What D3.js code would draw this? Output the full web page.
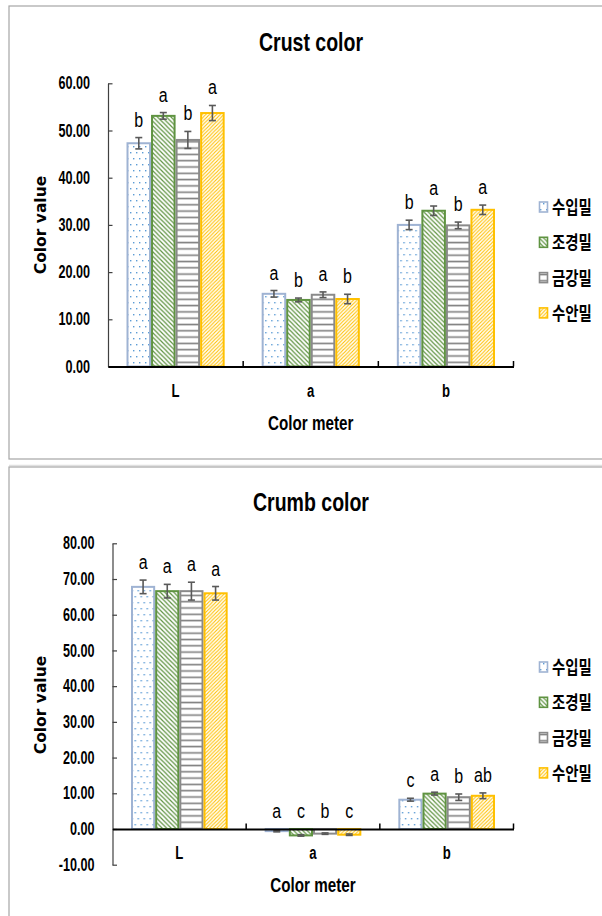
<!DOCTYPE html>
<html>
<head>
<meta charset="utf-8">
<script src="https://cdn.jsdelivr.net/npm/d3@7"></script>
<style>
  body { margin: 0; background: #fff; }
  svg text { fill: #000; }
</style>
</head>
<body>
<svg id="chart" width="602" height="916"></svg>
<script>
// color meter categories and wheat varieties
var meters = ["L", "a", "b"];
var wheats = ["수입밀", "조경밀", "금강밀", "수안밀"];

// crust color: mean, sd, letters (one row per meter, one column per wheat)
var crustMean = [[47.3, 53.1, 48.0, 53.7], [15.4, 14.1, 15.2, 14.3], [30.0, 33.0, 29.9, 33.2]];
var crustSd = [[1.2, 0.7, 1.8, 1.6], [0.7, 0.4, 0.6, 1.0], [1.0, 1.0, 0.7, 1.0]];
var crustLetters = [["b", "a", "b", "a"], ["a", "b", "a", "b"], ["b", "a", "b", "a"]];

// crumb color
var crumbMean = [[67.8, 66.6, 66.6, 66.0], [-0.6, -1.8, -1.3, -1.6], [8.2, 9.9, 8.9, 9.3]];
var crumbSd = [[1.9, 1.9, 2.5, 1.9], [0.2, 0.2, 0.2, 0.2], [0.4, 0.4, 0.9, 0.8]];
var crumbLetters = [["a", "a", "a", "a"], ["a", "c", "b", "c"], ["c", "a", "b", "ab"]];

var crustTicks = [0, 10, 20, 30, 40, 50, 60];
var crumbTicks = [-10, 0, 10, 20, 30, 40, 50, 60, 70, 80];

var borderColors = ["#9fb3d3", "#5f9341", "#8a8a8a", "#ffc000"];
var sans = "'Liberation Sans', Arial, sans-serif";

var svg = d3.select("#chart");
var defs = svg.append("defs");

// no narrow font here, so squeeze the text horizontally
function squeeze(sel, k) {
    sel.each(function() {
        var w = this.getComputedTextLength();
        d3.select(this).attr("textLength", w * k).attr("lengthAdjust", "spacingAndGlyphs");
    });
}

// fill patterns, similar to the Excel ones
var p0 = defs.append("pattern").attr("id", "pat0").attr("patternUnits", "userSpaceOnUse")
    .attr("width", 6).attr("height", 12);
p0.append("rect").attr("width", 6).attr("height", 12).attr("fill", "#fff");
p0.append("rect").attr("x", 1).attr("y", 2).attr("width", 1.4).attr("height", 1.4).attr("fill", "#5b9bd5");
p0.append("rect").attr("x", 4).attr("y", 8).attr("width", 1.4).attr("height", 1.4).attr("fill", "#5b9bd5");

var p1 = defs.append("pattern").attr("id", "pat1").attr("patternUnits", "userSpaceOnUse")
    .attr("width", 4.5).attr("height", 4.5);
p1.append("rect").attr("width", 4.5).attr("height", 4.5).attr("fill", "#fff");
p1.append("path").attr("d", "M0,0L4.5,4.5M-1,3.5L1,5.5M3.5,-1L5.5,1")
    .attr("stroke", "#5f9341").attr("stroke-width", 1.2);

var p2 = defs.append("pattern").attr("id", "pat2").attr("patternUnits", "userSpaceOnUse")
    .attr("width", 6).attr("height", 6.3);
p2.append("rect").attr("width", 6).attr("height", 6.3).attr("fill", "#fff");
p2.append("path").attr("d", "M0,3.2H6").attr("stroke", "#808080").attr("stroke-width", 1.6);

var p3 = defs.append("pattern").attr("id", "pat3").attr("patternUnits", "userSpaceOnUse")
    .attr("width", 3.6).attr("height", 3.6);
p3.append("rect").attr("width", 3.6).attr("height", 3.6).attr("fill", "#fff");
p3.append("path").attr("d", "M0,3.6L3.6,0M-1,1L1,-1M2.6,4.6L4.6,2.6")
    .attr("stroke", "#ffc000").attr("stroke-width", 1.1);

// frames around the two charts
svg.append("rect").attr("x", 9).attr("y", 6).attr("width", 600).attr("height", 453)
    .attr("fill", "none").attr("stroke", "#a6a6a6").attr("stroke-width", 1.2);
svg.append("line").attr("x1", 9).attr("x2", 602).attr("y1", 465.5).attr("y2", 465.5)
    .attr("stroke", "#e0e0e0").attr("stroke-width", 1.5);
svg.append("rect").attr("x", 9).attr("y", 467).attr("width", 600).attr("height", 460)
    .attr("fill", "none").attr("stroke", "#a6a6a6").attr("stroke-width", 1.2);

function drawChart(cfg) {
    var g = svg.append("g");

    var x0 = d3.scaleBand().domain(meters).range([cfg.left, cfg.right]);
    var pad = 18.5;
    var x1 = d3.scaleBand().domain(wheats).range([pad, x0.bandwidth() - pad]);
    var y = d3.scaleLinear().domain(cfg.domain).range([cfg.bottom, cfg.top]);

    // title
    g.append("text")
        .attr("x", 311).attr("y", cfg.titleY)
        .attr("text-anchor", "middle")
        .style("font-family", sans).style("font-weight", "bold").style("font-size", "26px")
        .text(cfg.title)
        .call(squeeze, 0.75);

    // y axis
    var yAxis = d3.axisLeft(y)
        .tickValues(cfg.ticks)
        .tickSizeInner(-4.5)
        .tickSizeOuter(0)
        .tickPadding(18)
        .tickFormat(function(d) { return d.toFixed(2); });

    var ya = g.append("g")
        .attr("transform", "translate(" + cfg.left + ",0)")
        .call(yAxis);
    ya.select(".domain").attr("stroke", "#404040").attr("stroke-width", 1.2);
    ya.selectAll(".tick line").attr("stroke", "#404040").attr("stroke-width", 1.2);
    ya.selectAll("text")
        .style("font-family", sans).style("font-weight", "bold").style("font-size", "17.5px")
        .call(squeeze, 0.72);

    // bars
    var groups = g.selectAll(".grp")
        .data(meters)
        .enter().append("g")
        .attr("class", "grp")
        .attr("transform", function(d) { return "translate(" + x0(d) + ",0)"; });

    groups.each(function(m, mi) {
        var rows = wheats.map(function(w, wi) {
            return { w: w, i: wi, v: cfg.mean[mi][wi], e: cfg.sd[mi][wi], t: cfg.letters[mi][wi] };
        });
        var sel = d3.select(this);

        sel.selectAll("rect")
            .data(rows)
            .enter().append("rect")
            .attr("x", function(d) { return x1(d.w) + 1; })
            .attr("width", x1.bandwidth() - 2)
            .attr("y", function(d) { return y(Math.max(0, d.v)); })
            .attr("height", function(d) { return Math.abs(y(d.v) - y(0)); })
            .attr("fill", function(d) { return "url(#pat" + d.i + ")"; })
            .attr("stroke", function(d) { return borderColors[d.i]; })
            .attr("stroke-width", 2);

        // error bars
        var eb = sel.selectAll(".err")
            .data(rows)
            .enter().append("g")
            .attr("class", "err")
            .attr("stroke", "#595959")
            .attr("stroke-width", 1.6);
        eb.append("line")
            .attr("x1", function(d) { return x1(d.w) + x1.bandwidth() / 2; })
            .attr("x2", function(d) { return x1(d.w) + x1.bandwidth() / 2; })
            .attr("y1", function(d) { return y(d.v - d.e); })
            .attr("y2", function(d) { return y(d.v + d.e); });
        eb.selectAll(".cap")
            .data(function(d) { return [d.v - d.e, d.v + d.e].map(function(v) { return { w: d.w, v: v }; }); })
            .enter().append("line")
            .attr("x1", function(d) { return x1(d.w) + x1.bandwidth() / 2 - 3.5; })
            .attr("x2", function(d) { return x1(d.w) + x1.bandwidth() / 2 + 3.5; })
            .attr("y1", function(d) { return y(d.v); })
            .attr("y2", function(d) { return y(d.v); });

        // significance letters
        sel.selectAll(".lbl")
            .data(rows)
            .enter().append("text")
            .attr("class", "lbl")
            .attr("x", function(d) { return x1(d.w) + x1.bandwidth() / 2; })
            .attr("y", function(d) { return y(Math.max(0, d.v + d.e)) - 11; })
            .attr("text-anchor", "middle")
            .style("font-family", sans).style("font-size", "20px")
            .text(function(d) { return d.t; })
            .call(squeeze, 0.8);
    });

    // x axis
    var xa = g.append("g")
        .attr("transform", "translate(0," + y(0) + ")")
        .call(d3.axisBottom(x0).tickSize(0).tickPadding(18));
    xa.select(".domain").attr("stroke", "#000").attr("stroke-width", 2.2);
    xa.selectAll("text")
        .style("font-family", sans).style("font-weight", "bold").style("font-size", "17.5px")
        .call(squeeze, 0.75);
    xa.selectAll(".sep")
        .data(meters)
        .enter().append("line")
        .attr("class", "sep")
        .attr("x1", function(d) { return x0(d) + x0.bandwidth(); })
        .attr("x2", function(d) { return x0(d) + x0.bandwidth(); })
        .attr("y1", 0).attr("y2", -5.5)
        .attr("stroke", "#000").attr("stroke-width", 1.5);

    // axis titles
    g.append("text")
        .attr("transform", "translate(" + 46 + "," + cfg.yTitleY + ") rotate(-90)")
        .attr("text-anchor", "middle")
        .style("font-family", "'DejaVu Sans', Verdana, sans-serif").style("font-weight", "bold").style("font-size", "15.5px")
        .text("Color value");

    g.append("text")
        .attr("x", (cfg.left + cfg.right) / 2).attr("y", y(0) + 63)
        .attr("text-anchor", "middle")
        .style("font-family", sans).style("font-weight", "bold").style("font-size", "20px")
        .text("Color meter")
        .call(squeeze, 0.76);

    // legend
    var leg = g.selectAll(".leg")
        .data(wheats)
        .enter().append("g")
        .attr("class", "leg")
        .attr("transform", function(d, i) { return "translate(539," + (cfg.legendY + i * 35.3) + ")"; });
    leg.append("rect")
        .attr("x", 0.5).attr("y", -5).attr("width", 8).attr("height", 10)
        .attr("fill", function(d, i) { return "url(#pat" + i + ")"; })
        .attr("stroke", function(d, i) { return borderColors[i]; })
        .attr("stroke-width", 1.6);
    leg.append("text")
        .attr("x", 13).attr("y", 7)
        .style("font-family", "'Noto Sans CJK KR', sans-serif").style("font-weight", "bold").style("font-size", "18.5px")
        .text(function(d) { return d; })
        .call(squeeze, 0.78);
}

drawChart({
    title: "Crust color", titleY: 51,
    left: 108, right: 513.5, top: 83.3, bottom: 366.5,
    domain: [0, 60], ticks: crustTicks,
    mean: crustMean, sd: crustSd, letters: crustLetters,
    yTitleY: 225, legendY: 207
});

drawChart({
    title: "Crumb color", titleY: 511,
    left: 112.5, right: 513.5, top: 543.3, bottom: 864.7,
    domain: [-10, 80], ticks: crumbTicks,
    mean: crumbMean, sd: crumbSd, letters: crumbLetters,
    yTitleY: 705, legendY: 667
});
</script>
</body>
</html>
